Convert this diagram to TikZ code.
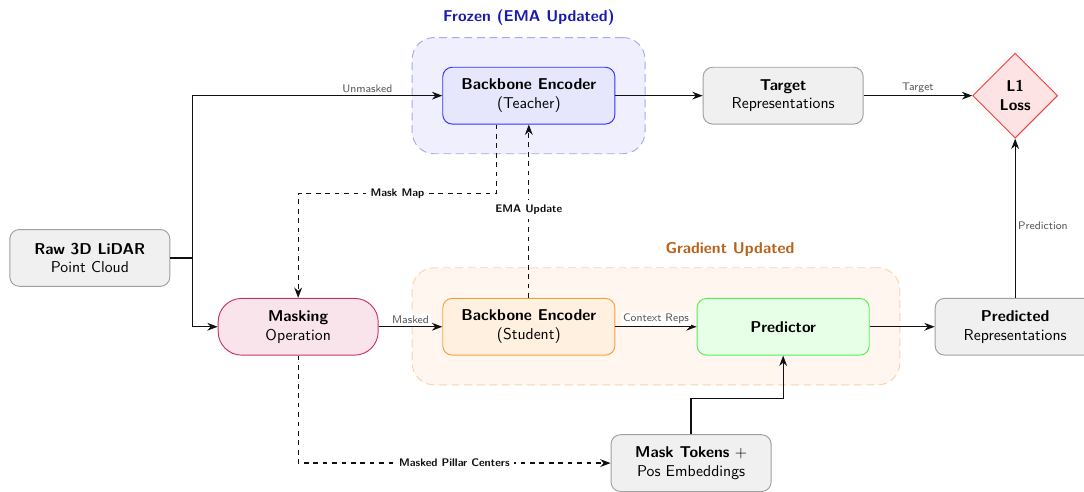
\documentclass[tikz,border=0pt]{standalone}
\usetikzlibrary{arrows.meta,positioning,calc,fit,backgrounds,shapes.geometric}
\definecolor{ink}{HTML}{111111}
\definecolor{muted}{HTML}{555555}
\definecolor{grayfill}{HTML}{F0F0F0}
\definecolor{graystroke}{HTML}{A0A0A0}
\definecolor{teacherfill}{HTML}{E6E6FC}
\definecolor{teacherstroke}{HTML}{3333FF}
\definecolor{studentfill}{HTML}{FFF0E0}
\definecolor{studentstroke}{HTML}{F5A040}
\definecolor{predfill}{HTML}{E6FFE6}
\definecolor{predstroke}{HTML}{55EE55}
\definecolor{maskfill}{HTML}{F9E4EC}
\definecolor{maskstroke}{HTML}{C8336A}
\definecolor{lossfill}{HTML}{FDE3E3}
\definecolor{lossstroke}{HTML}{F04040}
\definecolor{frozenfill}{HTML}{EFEFFD}
\definecolor{frozenstroke}{HTML}{A8A8F5}
\definecolor{frozentext}{HTML}{1A1AB0}
\definecolor{gradfill}{HTML}{FFF7EF}
\definecolor{gradstroke}{HTML}{FCD2A8}
\definecolor{gradtext}{HTML}{B8621B}

\begin{document}
\begin{tikzpicture}[
  font=\sffamily,
  >=Stealth,
  block/.style={draw=ink, fill=white, rounded corners=6pt, line width=0.6pt,
    align=center, inner sep=3pt, minimum width=3.58cm, minimum height=1.27cm},
  plainbox/.style={block, fill=grayfill, draw=graystroke},
  teacherbox/.style={block, fill=teacherfill, draw=teacherstroke, minimum width=3.85cm},
  studentbox/.style={block, fill=studentfill, draw=studentstroke, minimum width=3.85cm},
  predbox/.style={block, fill=predfill, draw=predstroke, minimum width=3.85cm},
  maskbox/.style={block, rounded corners=15pt, fill=maskfill, draw=maskstroke},
  lossbox/.style={diamond, draw=lossstroke, fill=lossfill, line width=0.6pt, align=center,
    minimum width=1.9cm, minimum height=1.9cm, inner sep=1pt, font=\sffamily\bfseries},
  zone/.style={rounded corners=14pt, line width=0.6pt, dash pattern=on 5pt off 3pt},
  flow/.style={->, draw=ink, line width=0.8pt},
  maskflow/.style={flow, dashed},
  edgetag/.style={font=\sffamily\scriptsize, text=muted, fill=white, inner sep=1.5pt},
  boldtag/.style={font=\sffamily\scriptsize\bfseries, text=ink, fill=white, inner sep=3pt}
]
\useasboundingbox (0,0) rectangle (24.25,11.0);

\begin{scope}[on background layer]
  \node[zone, fill=frozenfill, draw=frozenstroke, fit={(9.22,7.56) (14.43,10.16)}, inner sep=0pt] {};
  \node[zone, fill=gradfill, draw=gradstroke, fit={(9.22,2.39) (20.13,5.01)}, inner sep=0pt] {};
\end{scope}

\node[font=\sffamily\bfseries, text=frozentext] at (11.83,10.60) {Frozen (EMA Updated)};
\node[font=\sffamily\bfseries, text=gradtext] at (16.33,5.41) {Gradient Updated};

\node[plainbox] (raw) at (2.01,5.23) {\textbf{Raw 3D LiDAR}\\Point Cloud};
\node[maskbox] (masking) at (6.67,3.69) {\textbf{Masking}\\Operation};
\node[teacherbox] (teacher) at (11.83,8.86) {\textbf{Backbone Encoder}\\(Teacher)};
\node[studentbox] (student) at (11.83,3.69) {\textbf{Backbone Encoder}\\(Student)};
\node[plainbox] (target) at (17.52,8.86) {\textbf{Target}\\Representations};
\node[lossbox] (loss) at (22.71,8.86) {L1\\Loss};
\node[predbox] (predictor) at (17.52,3.69) {\textbf{Predictor}};
\node[plainbox] (predicted) at (22.71,3.69) {\textbf{Predicted}\\Representations};
\node[plainbox] (masktok) at (15.46,0.64) {\textbf{Mask Tokens} $+$\\Pos Embeddings};

\coordinate (split) at (4.30,5.23);
\draw[draw=ink, line width=0.8pt] (raw) -- (split);
\draw[flow] (split) |- node[edgetag, pos=0.85, above] {Unmasked} (teacher.west);
\draw[flow] (split) |- (masking.west);

\draw[flow] (masking) -- node[edgetag, above] {Masked} (student);
\draw[flow] (student) -- node[edgetag, above] {Context Reps} (predictor);
\draw[flow] (teacher) -- (target);
\draw[flow] (target) -- node[edgetag, above] {Target} (loss);
\draw[flow] (predictor) -- (predicted);
\draw[flow] (predicted) -- node[edgetag, right, pos=0.45] {Prediction} (loss);
\draw[flow] (masktok.north) -- ++(0,0.8) -| (predictor.south);

\draw[maskflow] ([xshift=-0.72cm]teacher.south) |- node[boldtag, pos=0.75] {Mask Map}
  (masking.north |- 0,6.67) -- (masking.north);
\draw[maskflow] (student.north) -- node[boldtag, pos=0.51] {EMA Update} (teacher.south);
\draw[maskflow] (masking.south) |- node[boldtag, pos=0.75] {Masked Pillar Centers} (masktok.west);
\end{tikzpicture}
\end{document}
